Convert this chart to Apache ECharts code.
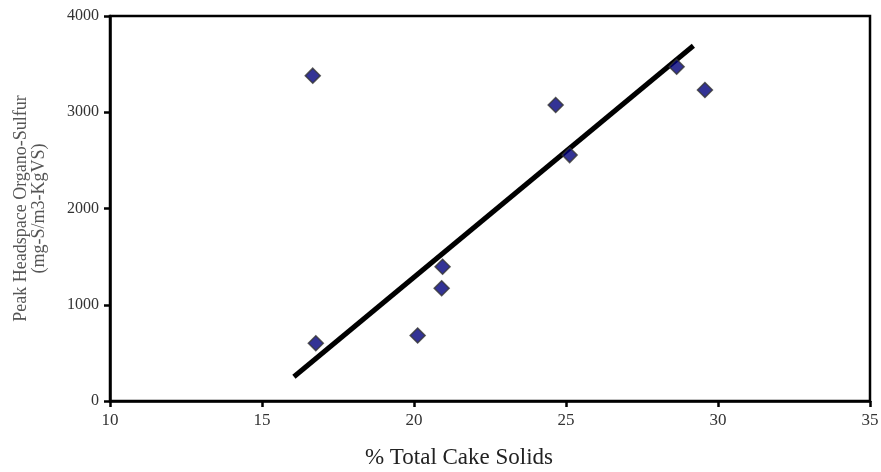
<!DOCTYPE html>
<html>
<head>
<meta charset="utf-8">
<script src="https://cdn.jsdelivr.net/npm/echarts@6/dist/echarts.min.js"></script>
<style>html,body{margin:0;padding:0;background:#fff}#c{width:881px;height:472px}</style>
</head>
<body>
<div id="c"></div>
<script>
var solids = [16.67, 16.77, 20.12, 20.91, 20.94, 24.66, 25.12, 28.64, 29.57];
var sulfur = [3380, 600, 680, 1171, 1395, 3075, 2555, 3473, 3231];
var trendX = [16.05, 29.19];
var trendY = [252, 3691];
var xTicks = [10, 15, 20, 25, 30, 35];
var yTicks = [0, 1000, 2000, 3000, 4000];

var chart = echarts.init(document.getElementById('c'));
var font = 'Liberation Serif';
chart.setOption({
  animation: false,
  backgroundColor: '#fff',
  grid: {left: 110, right: 11, top: 16, bottom: 71, outerBoundsMode: 'none', containLabel: false, show: true, borderColor: '#000', borderWidth: 2.5, backgroundColor: 'transparent'},
  xAxis: {
    type: 'value', min: xTicks[0], max: xTicks[xTicks.length - 1], interval: 5,
    name: '% Total Cake Solids', nameLocation: 'middle', nameGap: 45,
    nameTextStyle: {fontFamily: font, fontSize: 23, color: '#222', padding: [0, 62, 0, 0]},
    axisLine: {show: true, lineStyle: {color: '#000', width: 2.5}},
    axisTick: {show: true, length: 6, lineStyle: {color: '#000', width: 2.5}},
    axisLabel: {fontFamily: font, fontSize: 17, color: '#333', margin: 11, formatter: function (v) { return String(v); }},
    splitLine: {show: false}
  },
  yAxis: {
    type: 'value', min: yTicks[0], max: yTicks[yTicks.length - 1], interval: 1000,
    name: 'Peak Headspace Organo-Sulfur\n(mg-S/m3-KgVS)', nameLocation: 'middle', nameGap: 62,
    nameTextStyle: {fontFamily: font, fontSize: 18, color: '#555', lineHeight: 18},
    axisLine: {show: true, lineStyle: {color: '#000', width: 2.5}},
    axisTick: {show: true, length: 6, lineStyle: {color: '#000', width: 2.5}},
    axisLabel: {fontFamily: font, fontSize: 16, color: '#333', margin: 11, formatter: function (v) { return String(v); }},
    splitLine: {show: false}
  },
  series: [
    {
      type: 'line',
      data: trendX.map(function (x, i) { return [x, trendY[i]]; }),
      symbol: 'none',
      lineStyle: {color: '#000', width: 5},
      z: 2
    },
    {
      type: 'scatter',
      data: solids.map(function (x, i) { return [x, sulfur[i]]; }),
      symbol: 'diamond',
      symbolSize: 15,
      itemStyle: {color: '#00007a', borderColor: '#333', borderWidth: 1.5},
      z: 3
    }
  ]
});
</script>
</body>
</html>
